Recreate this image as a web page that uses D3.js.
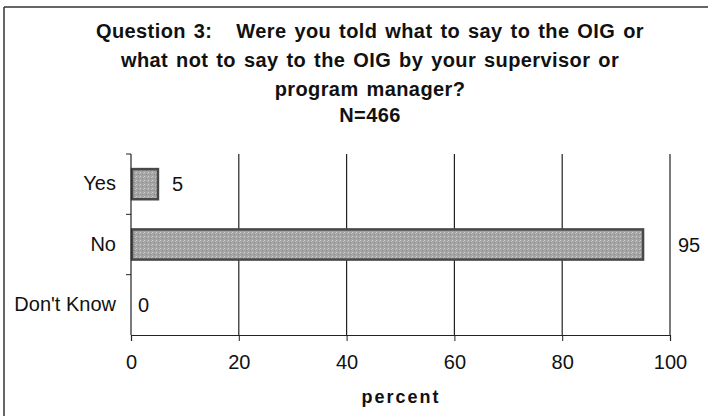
<!DOCTYPE html>
<html><head><meta charset="utf-8">
<script src="https://cdn.jsdelivr.net/npm/d3@7"></script>
<style>body{margin:0;background:#fff}svg{display:block}text{font-family:"Liberation Sans",Arial,sans-serif;fill:#111}</style>
</head><body><svg id="c" width="708" height="416"></svg>
<script>
const categories = ["Yes", "No", "Don't Know"];
const values = [5, 95, 0];
const xTicks = [0, 20, 40, 60, 80, 100];
const titleLines = ["Question 3:   Were you told what to say to the OIG or", "what not to say to the OIG by your supervisor or", "program manager?", "N=466"];
const xLabel = "percent";

const svg = d3.select("#c");
// frame (top and left edges visible)
svg.append("line").attr("x1",4).attr("x2",708).attr("y1",7).attr("y2",7).attr("stroke","#333").attr("stroke-width",1.5);
svg.append("line").attr("x1",4).attr("x2",4).attr("y1",7).attr("y2",416).attr("stroke","#333").attr("stroke-width",1.5);

const m = {left:131, right:670, top:154, bottom:335};
const x = d3.scaleLinear().domain([0,100]).range([m.left, m.right]);
const y = d3.scaleBand().domain(categories).range([m.top, m.bottom]).paddingInner(0.5).paddingOuter(0.25);
const yb = d3.scaleBand().domain(categories).range([m.top, m.bottom]);

// title
const tY = [38, 67, 96, 122];
svg.append("g").selectAll("text").data(titleLines).join("text")
  .attr("x",370).attr("y",(d,i)=>tY[i]).attr("text-anchor","middle")
  .attr("font-size",20).attr("font-weight","bold")
  .attr("letter-spacing","0.4px").attr("word-spacing","2px")
  .style("white-space","pre").text(d=>d);

// gridlines
svg.append("g").selectAll("line").data(xTicks.filter(d=>d>0)).join("line")
  .attr("x1",d=>x(d)).attr("x2",d=>x(d)).attr("y1",m.top).attr("y2",m.bottom)
  .attr("stroke","#222").attr("stroke-width",1.2);

// texture pattern
const defs = svg.append("defs");
const pat = defs.append("pattern").attr("id","tex").attr("width",4).attr("height",4).attr("patternUnits","userSpaceOnUse");
pat.append("rect").attr("width",4).attr("height",4).attr("fill","#a4a4a4");
pat.append("rect").attr("x",0).attr("y",0).attr("width",1).attr("height",1).attr("fill","#cfcfcf");
pat.append("rect").attr("x",2).attr("y",2).attr("width",1).attr("height",1).attr("fill","#858585");
pat.append("rect").attr("x",3).attr("y",1).attr("width",1).attr("height",1).attr("fill","#c2c2c2");

// bars
const data = categories.map((c,i)=>({c, v:values[i]}));
svg.append("g").selectAll("rect").data(data.filter(d=>d.v>0)).join("rect")
  .attr("x",x(0)+1).attr("y",d=>y(d.c)).attr("width",d=>x(d.v)-x(0)-1).attr("height",y.bandwidth())
  .attr("fill","url(#tex)").attr("stroke","#484848").attr("stroke-width",2.5);

// value labels
svg.append("g").selectAll("text").data(data).join("text")
  .attr("x",d=> d.v>=90 ? x(100)+8 : (d.v>0 ? x(d.v)+14 : x(d.v)+7))
  .attr("y",d=>y(d.c)+y.bandwidth()/2).attr("dy","0.36em")
  .attr("font-size",20).text(d=>d.v);

// y axis
const ya = svg.append("g");
ya.append("line").attr("x1",m.left).attr("x2",m.left).attr("y1",m.top).attr("y2",m.bottom).attr("stroke","#222").attr("stroke-width",1.2);
ya.selectAll("line.t").data([m.top, ...categories.slice(1).map(c=>yb(c))]).join("line").attr("class","t")
  .attr("x1",m.left-5).attr("x2",m.left).attr("y1",d=>d).attr("y2",d=>d).attr("stroke","#222");
ya.selectAll("text").data(categories).join("text")
  .attr("x",m.left-15).attr("y",d=>yb(d)+yb.bandwidth()/2-1).attr("dy","0.36em")
  .attr("text-anchor","end").attr("font-size",20).text(d=>d);

// x axis
const xa = svg.append("g").attr("transform",`translate(0,${m.bottom})`)
  .call(d3.axisBottom(x).tickValues(xTicks).tickSize(6).tickPadding(14));
xa.select(".domain").attr("stroke","#222").attr("stroke-width",1.2);
xa.selectAll(".tick line").attr("stroke","#222");
xa.selectAll(".tick text").attr("font-size",20).attr("fill","#111").attr("font-family","Liberation Sans, Arial, sans-serif");

svg.append("text").attr("x",401).attr("y",403).attr("text-anchor","middle")
  .attr("font-size",18).attr("font-weight","bold").attr("letter-spacing","2px").text(xLabel);
</script></body></html>
